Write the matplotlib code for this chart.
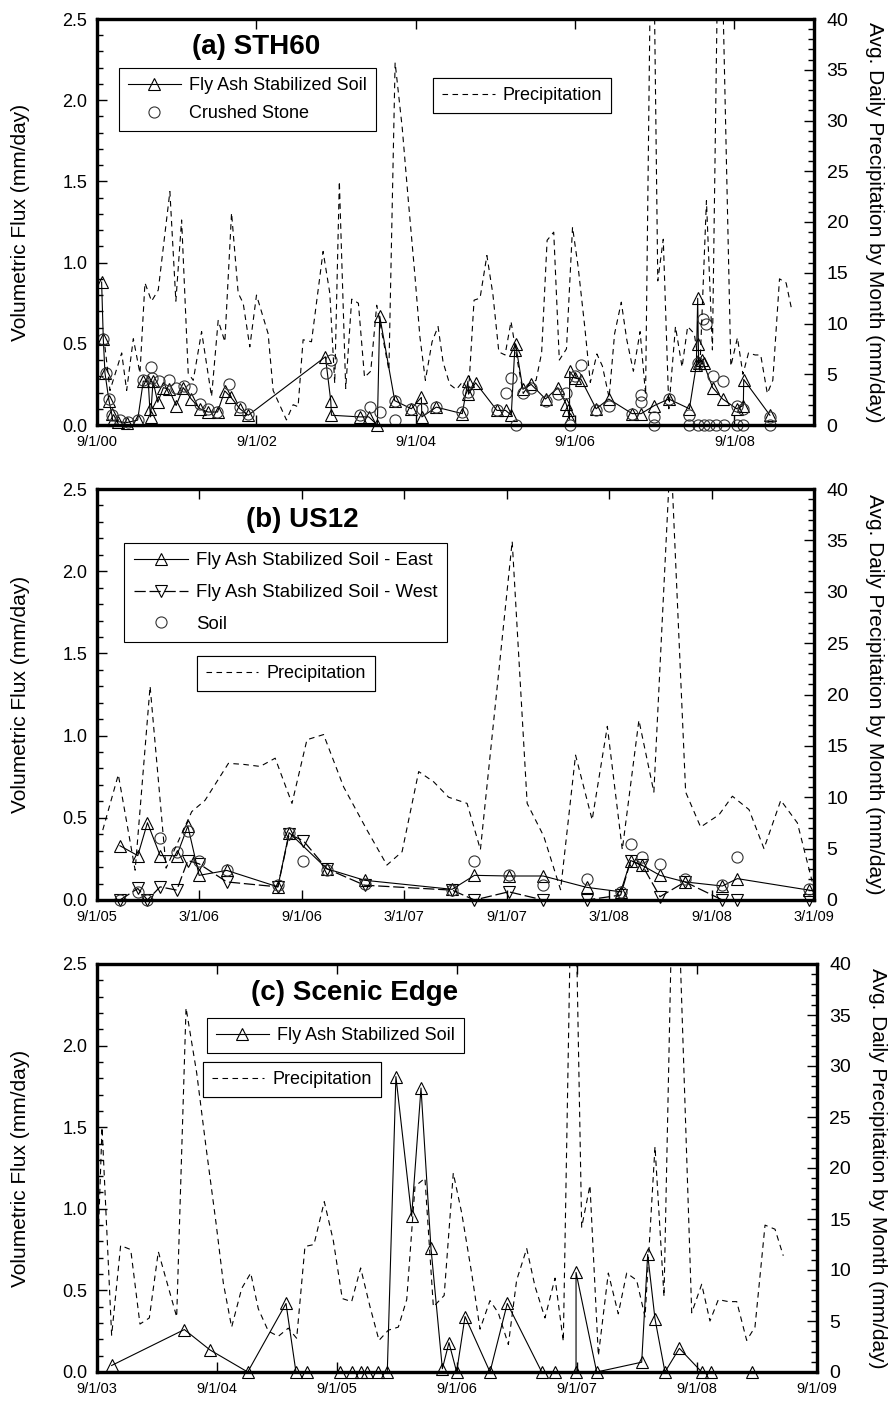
import matplotlib
matplotlib.use('Agg')
import matplotlib.pyplot as plt
from matplotlib.lines import Line2D
from matplotlib.ticker import MultipleLocator, FormatStrFormatter

plt.rcParams['font.family'] = ['Liberation Sans', 'DejaVu Sans']

# ---------------- data (decimal years) ----------------
# Precipitation shared by panels (a) STH60 and (c) Scenic Edge (avg daily by month, mm/day)
precip_sth_year = [2000.767, 2000.83, 2000.977, 2001.039, 2001.123, 2001.206, 2001.269, 2001.352,
                   2001.436, 2001.582, 2001.657, 2001.729, 2001.812, 2001.875, 2001.98, 2002.105,
                   2002.188, 2002.272, 2002.356, 2002.439, 2002.502, 2002.585, 2002.669, 2002.815,
                   2002.878, 2003.045, 2003.129, 2003.191, 2003.254, 2003.359, 2003.505, 2003.589,
                   2003.651, 2003.709, 2003.789, 2003.864, 2003.948, 2004.025, 2004.103, 2004.178,
                   2004.331, 2004.409, 2004.498, 2004.575, 2004.659, 2004.72, 2004.789, 2004.873,
                   2004.948, 2005.011, 2005.095, 2005.178, 2005.261, 2005.331, 2005.4, 2005.475,
                   2005.561, 2005.636, 2005.711, 2005.789, 2005.864, 2005.942, 2006.017, 2006.095,
                   2006.178, 2006.248, 2006.317, 2006.4, 2006.47, 2006.56, 2006.636, 2006.706,
                   2006.789, 2006.859, 2006.942, 2007.011, 2007.095, 2007.164, 2007.248, 2007.317,
                   2007.4, 2007.484, 2007.553, 2007.636, 2007.706, 2007.775, 2007.845, 2007.928,
                   2008.011, 2008.081, 2008.164, 2008.234, 2008.317, 2008.392, 2008.48, 2008.623,
                   2008.706, 2008.775, 2008.845, 2008.928, 2008.998, 2009.081, 2009.15, 2009.234,
                   2009.317, 2009.386]
precip_sth_mm = [7.7, 3.4, 7.1, 3.4, 8.5, 5.1, 14.0, 12.2,
                 13.3, 23.0, 12.2, 20.2, 5.1, 4.4, 9.2, 2.8,
                 10.3, 8.2, 20.9, 13.0, 12.0, 7.7, 12.8, 9.0,
                 3.4, 0.5, 2.0, 1.8, 8.4, 8.2, 17.1, 13.0,
                 4.1, 24.0, 3.6, 12.4, 12.0, 4.7, 5.3, 11.8,
                 5.4, 35.7, 29.3, 22.1, 14.6, 8.7, 4.4, 8.2,
                 9.7, 6.2, 4.0, 3.5, 4.3, 3.3, 12.3, 12.5,
                 16.7, 12.9, 7.2, 6.9, 10.2, 6.4, 3.1, 4.1,
                 4.4, 7.1, 18.2, 19.0, 6.4, 7.5, 19.5, 15.6,
                 9.7, 4.2, 7.0, 5.8, 2.7, 9.0, 12.1, 8.4,
                 5.3, 9.2, 3.0, 60.0, 14.2, 18.3, 1.6, 9.7,
                 5.7, 9.7, 9.0, 5.4, 22.1, 7.4, 58.0, 5.8,
                 8.6, 5.0, 7.1, 6.9, 6.9, 3.1, 4.4, 14.4,
                 14.0, 11.4]

# Panel (a) STH60 fluxes
sth_flyash_year = [2000.725, 2000.746, 2000.767, 2000.817, 2000.851, 2000.863, 2000.934, 2001.039,
                   2001.177, 2001.248, 2001.31, 2001.33, 2001.34, 2001.37, 2001.43, 2001.5,
                   2001.57, 2001.66, 2001.75, 2001.85, 2001.96, 2002.06, 2002.18, 2002.27,
                   2002.35, 2002.46, 2002.565, 2003.534, 2003.601, 2003.61, 2003.965, 2004.078,
                   2004.186, 2004.216, 2004.404, 2004.613, 2004.738, 2004.745, 2004.926, 2005.252,
                   2005.323, 2005.33, 2005.419, 2005.687, 2005.796, 2005.867, 2005.91, 2005.921,
                   2006.013, 2006.117, 2006.297, 2006.452, 2006.556, 2006.58, 2006.598, 2006.6,
                   2006.661, 2006.744, 2006.932, 2007.091, 2007.384, 2007.497, 2007.664, 2007.844,
                   2008.103, 2008.19, 2008.207, 2008.215, 2008.22, 2008.26, 2008.28, 2008.395,
                   2008.521, 2008.696, 2008.78, 2008.785, 2009.114]
sth_flyash_flux = [0.88, 0.53, 0.32, 0.15, 0.07, 0.03, 0.02, 0.015,
                   0.03, 0.27, 0.27, 0.10, 0.05, 0.27, 0.14, 0.23,
                   0.22, 0.12, 0.23, 0.16, 0.10, 0.08, 0.08, 0.21,
                   0.17, 0.10, 0.06, 0.42, 0.15, 0.06, 0.05, 0.05,
                   0.0, 0.67, 0.15, 0.10, 0.17, 0.05, 0.11, 0.07,
                   0.27, 0.19, 0.26, 0.09, 0.09, 0.06, 0.46, 0.50,
                   0.22, 0.25, 0.16, 0.23, 0.13, 0.09, 0.035, 0.33,
                   0.29, 0.28, 0.10, 0.16, 0.07, 0.07, 0.12, 0.16,
                   0.10, 0.37, 0.78, 0.50, 0.38, 0.40, 0.38, 0.23,
                   0.16, 0.10, 0.12, 0.28, 0.06]
sth_stone_year = [2000.746, 2000.78, 2000.817, 2000.86, 2000.95, 2001.06, 2001.177, 2001.25,
                  2001.35, 2001.36, 2001.45, 2001.57, 2001.66, 2001.76, 2001.85, 2001.96,
                  2002.06, 2002.17, 2002.33, 2002.46, 2002.565, 2003.54, 2003.61, 2003.965,
                  2004.09, 2004.216, 2004.404, 2004.41, 2004.613, 2004.75, 2004.926, 2005.25,
                  2005.33, 2005.687, 2005.796, 2005.867, 2005.921, 2006.013, 2006.117, 2006.297,
                  2006.452, 2006.556, 2006.598, 2006.661, 2006.744, 2006.932, 2007.091, 2007.384,
                  2007.497, 2007.497, 2007.664, 2007.664, 2007.844, 2008.103, 2008.103, 2008.207,
                  2008.207, 2008.27, 2008.31, 2008.291, 2008.354, 2008.395, 2008.437, 2008.521,
                  2008.542, 2008.696, 2008.696, 2008.78, 2008.78, 2009.114, 2009.114]
sth_stone_flux = [0.53, 0.32, 0.16, 0.06, 0.03, 0.02, 0.03, 0.28,
                  0.36, 0.29, 0.27, 0.28, 0.23, 0.24, 0.22, 0.13,
                  0.10, 0.08, 0.25, 0.11, 0.07, 0.32, 0.40, 0.06,
                  0.11, 0.08, 0.03, 0.15, 0.10, 0.10, 0.11, 0.08,
                  0.205, 0.09, 0.195, 0.29, 0.0, 0.195, 0.23, 0.15,
                  0.19, 0.195, 0.0, 0.30, 0.37, 0.09, 0.12, 0.07,
                  0.185, 0.14, 0.05, 0.0, 0.16, 0.06, 0.0, 0.38,
                  0.0, 0.65, 0.62, 0.0, 0.0, 0.30, 0.0, 0.27,
                  0.0, 0.12, 0.0, 0.10, 0.0, 0.05, 0.0]

# Panel (b) US12
precip_us12_year = [2005.695, 2005.771, 2005.853, 2005.926, 2006.004, 2006.129, 2006.194, 2006.308,
                    2006.381, 2006.463, 2006.536, 2006.618, 2006.691, 2006.772, 2006.87, 2006.984,
                    2007.081, 2007.155, 2007.236, 2007.309, 2007.382, 2007.472, 2007.537, 2007.692,
                    2007.765, 2007.846, 2007.928, 2008.001, 2008.082, 2008.156, 2008.229, 2008.31,
                    2008.383, 2008.465, 2008.538, 2008.611, 2008.701, 2008.766, 2008.847, 2008.92,
                    2009.002, 2009.083, 2009.155]
precip_us12_mm = [6.8, 12.2, 2.9, 20.8, 3.1, 8.6, 9.7, 13.3,
                  13.2, 13.0, 13.8, 9.4, 15.6, 16.1, 11.0, 6.8,
                  3.4, 4.7, 12.5, 11.5, 10.0, 9.4, 4.9, 34.9,
                  9.4, 6.2, 1.0, 14.1, 7.8, 16.9, 4.9, 17.5,
                  10.5, 44.0, 10.5, 7.1, 8.3, 10.1, 8.8, 5.0,
                  9.7, 7.5, 1.8]
us12_east_year = [2005.779, 2005.866, 2005.913, 2005.975, 2006.056, 2006.11, 2006.165, 2006.3,
                  2006.549, 2006.604, 2006.788, 2006.972, 2007.399, 2007.508, 2007.675, 2007.843,
                  2008.055, 2008.221, 2008.27, 2008.327, 2008.413, 2008.535, 2008.717, 2008.79,
                  2009.14]
us12_east_flux = [0.33, 0.27, 0.47, 0.27, 0.27, 0.45, 0.15, 0.18,
                  0.08, 0.41, 0.19, 0.12, 0.065, 0.15, 0.146, 0.146,
                  0.077, 0.05, 0.24, 0.21, 0.15, 0.11, 0.085, 0.13,
                  0.06]
us12_west_year = [2005.779, 2005.866, 2005.913, 2005.975, 2006.056, 2006.11, 2006.165, 2006.3,
                  2006.549, 2006.604, 2006.674, 2006.788, 2006.972, 2007.399, 2007.508, 2007.675,
                  2007.843, 2008.055, 2008.221, 2008.27, 2008.327, 2008.413, 2008.535, 2008.717,
                  2008.79, 2009.14]
us12_west_flux = [0.0, 0.07, 0.0, 0.08, 0.06, 0.24, 0.22, 0.11,
                  0.08, 0.40, 0.36, 0.19, 0.09, 0.06, 0.0, 0.05,
                  0.0, 0.0, 0.03, 0.24, 0.21, 0.02, 0.11, 0.0,
                  0.0, 0.0]
us12_soil_year = us12_west_year
us12_soil_flux = [0.0, 0.05, 0.0, 0.38, 0.29, 0.42, 0.24, 0.18,
                  0.09, 0.41, 0.24, 0.18, 0.10, 0.06, 0.24, 0.15,
                  0.09, 0.13, 0.05, 0.34, 0.26, 0.22, 0.13, 0.09,
                  0.26, 0.065]

# Panel (c) Scenic Edge
scenic_flyash_year = [2003.789, 2004.395, 2004.609, 2004.923, 2005.242, 2005.325, 2005.414, 2005.692,
                      2005.795, 2005.867, 2005.914, 2006.011, 2006.086, 2006.158, 2006.289, 2006.367,
                      2006.45, 2006.545, 2006.6, 2006.664, 2006.734, 2006.942, 2007.086, 2007.373,
                      2007.484, 2007.659, 2007.659, 2007.831, 2008.206, 2008.256, 2008.317, 2008.4,
                      2008.52, 2008.706, 2008.781, 2009.123]
scenic_flyash_flux = [0.04, 0.26, 0.135, 0.0, 0.42, 0.0, 0.0, 0.0,
                      0.0, 0.0, 0.0, 0.0, 0.0, 1.81, 0.955, 1.74,
                      0.76, 0.02, 0.18, 0.0, 0.34, 0.0, 0.42, 0.0,
                      0.0, 0.0, 0.61, 0.0, 0.06, 0.72, 0.325, 0.0,
                      0.145, 0.0, 0.0, 0.0]

# axis ticks
ticks_a = [2000.667, 2002.667, 2004.667, 2006.667, 2008.667]
labels_a = ['9/1/00', '9/1/02', '9/1/04', '9/1/06', '9/1/08']
ticks_b = [2005.667, 2006.164, 2006.667, 2007.164, 2007.667, 2008.164, 2008.667, 2009.164]
labels_b = ['9/1/05', '3/1/06', '9/1/06', '3/1/07', '9/1/07', '3/1/08', '9/1/08', '3/1/09']
ticks_c = [2003.667, 2004.667, 2005.667, 2006.667, 2007.667, 2008.667, 2009.667]
labels_c = ['9/1/03', '9/1/04', '9/1/05', '9/1/06', '9/1/07', '9/1/08', '9/1/09']

# ---------------- figure ----------------
W, H = 893, 1407
fig = plt.figure(figsize=(W / 100, H / 100), dpi=100)


def make_axes(left, top, right, bottom):
    return fig.add_axes([left / W, 1 - bottom / H, (right - left) / W, (bottom - top) / H])


TRI = dict(marker='^', ms=8, mfc='none', mec='k', mew=0.8)
TRID = dict(marker='v', ms=8, mfc='none', mec='k', mew=0.8)
CIRC = dict(marker='o', ms=8, mfc='none', mec='#333333', mew=0.8)
PRECIP = dict(color='k', lw=0.8, ls=(0, (5, 4)))


def style(ax, ax2, xlim, ticks, labels):
    ax.set_xlim(*xlim)
    ax.set_ylim(0, 2.5)
    ax2.set_ylim(0, 40)
    ax.set_xticks(ticks)
    ax.set_xticklabels(labels)
    ax.yaxis.set_major_locator(MultipleLocator(0.5))
    ax.yaxis.set_minor_locator(MultipleLocator(0.1))
    ax.yaxis.set_major_formatter(FormatStrFormatter('%.1f'))
    ax2.yaxis.set_major_locator(MultipleLocator(5))
    ax2.yaxis.set_minor_locator(MultipleLocator(1))
    ax.tick_params(axis='x', which='major', direction='in', top=True, length=7, width=1,
                   labelsize=10.5, pad=7)
    ax.tick_params(axis='y', which='major', direction='in', length=7, width=1, labelsize=13, pad=7)
    ax.tick_params(axis='y', which='minor', direction='in', length=4.5, width=1)
    ax2.tick_params(axis='y', which='major', direction='in', length=7, width=1, labelsize=14, pad=9)
    ax2.tick_params(axis='y', which='minor', direction='in', length=4.5, width=1)
    for a in (ax, ax2):
        for s in a.spines.values():
            s.set_linewidth(2.3)
    ax.set_ylabel('Volumetric Flux (mm/day)', fontsize=15)
    ax.yaxis.set_label_coords(-0.093, 0.5)
    ax2.set_ylabel('Avg. Daily Precipitation by Month (mm/day)', fontsize=15, rotation=270,
                   va='bottom')
    ax2.yaxis.set_label_coords(1.071, 0.5)


def leg(ax2, handles, labels, anchor, fontsize=13, spacing=0.6):
    lg = ax2.legend(handles, labels, loc='upper left', bbox_to_anchor=anchor, fontsize=fontsize,
                    frameon=True, fancybox=False, framealpha=1, edgecolor='k',
                    handlelength=2.9, handletextpad=0.45, borderpad=0.5, labelspacing=spacing,
                    borderaxespad=0)
    lg.get_frame().set_linewidth(0.8)
    ax2.add_artist(lg)
    return lg


h_tri = Line2D([], [], color='k', lw=0.8, **TRI)
h_tri_w = Line2D([], [], color='k', lw=0.9, ls=(0, (9, 3)), **TRID)
h_circ = Line2D([], [], ls='none', **CIRC)
h_prec = Line2D([], [], **PRECIP)

# ---- panel (a)
ax = make_axes(97, 19, 814, 425)
ax2 = ax.twinx()
ax.plot(sth_flyash_year, sth_flyash_flux, color='k', lw=0.8, clip_on=False, zorder=3, **TRI)
ax.plot(sth_stone_year, sth_stone_flux, ls='none', clip_on=False, zorder=3, **CIRC)
ax2.plot(precip_sth_year, precip_sth_mm, **PRECIP)
style(ax, ax2, (2000.667, 2009.667), ticks_a, labels_a)
ax.text(0.222, 0.931, '(a) STH60', transform=ax.transAxes, ha='center', va='center',
        fontsize=20, fontweight='bold')
leg(ax2, [h_tri, h_circ], ['Fly Ash Stabilized Soil', 'Crushed Stone'], (0.031, 0.879))
leg(ax2, [h_prec], ['Precipitation'], (0.469, 0.855))

# ---- panel (b)
ax = make_axes(97, 489, 814, 900)
ax2 = ax.twinx()
ax.plot(us12_east_year, us12_east_flux, color='k', lw=0.8, clip_on=False, zorder=3, **TRI)
ax.plot(us12_west_year, us12_west_flux, color='k', lw=0.9, ls=(0, (9, 3)), clip_on=False,
        zorder=3, **TRID)
ax.plot(us12_soil_year, us12_soil_flux, ls='none', clip_on=False, zorder=3, **CIRC)
ax2.plot(precip_us12_year, precip_us12_mm, **PRECIP)
style(ax, ax2, (2005.667, 2009.164), ticks_b, labels_b)
ax.text(0.286, 0.925, '(b) US12', transform=ax.transAxes, ha='center', va='center',
        fontsize=20, fontweight='bold')
leg(ax2, [h_tri, h_tri_w, h_circ],
    ['Fly Ash Stabilized Soil - East', 'Fly Ash Stabilized Soil - West', 'Soil'],
    (0.038, 0.869), fontsize=13.4, spacing=0.8)
leg(ax2, [h_prec], ['Precipitation'], (0.139, 0.594))

# ---- panel (c)
ax = make_axes(97, 964, 817, 1372)
ax2 = ax.twinx()
ax.plot(scenic_flyash_year, scenic_flyash_flux, color='k', lw=0.8, clip_on=False, zorder=3, **TRI)
ax2.plot(precip_sth_year, precip_sth_mm, **PRECIP)
style(ax, ax2, (2003.667, 2009.667), ticks_c, labels_c)
ax.text(0.358, 0.929, '(c) Scenic Edge', transform=ax.transAxes, ha='center', va='center',
        fontsize=20, fontweight='bold')
leg(ax2, [h_tri], ['Fly Ash Stabilized Soil'], (0.153, 0.868))
leg(ax2, [h_prec], ['Precipitation'], (0.147, 0.76))

fig.savefig('out.png', dpi=100)
